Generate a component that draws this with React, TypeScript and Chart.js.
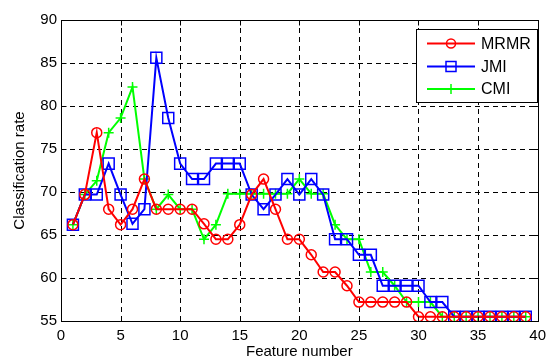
import React, { useEffect, useRef } from 'react';
import { Chart, registerables } from 'chart.js';

Chart.register(...registerables);

const featureNumbers = [
  1, 2, 3, 4, 5, 6, 7, 8, 9, 10, 11, 12, 13, 14, 15, 16, 17, 18, 19, 20,
  21, 22, 23, 24, 25, 26, 27, 28, 29, 30, 31, 32, 33, 34, 35, 36, 37, 38, 39,
];

const mrmr = [
  66.2, 69.7, 76.9, 68.0, 66.2, 68.0, 71.5, 68.0, 68.0, 68.0,
  68.0, 66.3, 64.5, 64.5, 66.2, 69.7, 71.5, 68.0, 64.5, 64.5,
  62.7, 60.7, 60.7, 59.1, 57.2, 57.2, 57.2, 57.2, 57.2, 55.5,
  55.5, 55.5, 55.5, 55.5, 55.5, 55.5, 55.5, 55.5, 55.5,
];

const jmi = [
  66.2, 69.7, 69.7, 73.3, 69.7, 66.3, 68.0, 85.6, 78.6, 73.3,
  71.5, 71.5, 73.3, 73.3, 73.3, 69.7, 68.0, 69.7, 71.5, 69.7,
  71.5, 69.7, 64.5, 64.5, 62.7, 62.7, 59.1, 59.1, 59.1, 59.1,
  57.2, 57.2, 55.5, 55.5, 55.5, 55.5, 55.5, 55.5, 55.5,
];

const cmi = [
  66.2, 69.7, 71.3, 76.9, 78.6, 82.2, 71.5, 68.0, 69.7, 68.0,
  68.0, 64.5, 66.2, 69.8, 69.8, 69.8, 69.8, 69.8, 69.8, 71.5,
  69.8, 69.8, 66.2, 64.5, 64.5, 60.7, 60.7, 59.1, 57.2, 57.2,
  57.2, 55.5, 55.5, 55.5, 55.5, 55.5, 55.5, 55.5, 55.5,
];

const seriesNames = ['MRMR', 'JMI', 'CMI'];
const xTicks = [0, 5, 10, 15, 20, 25, 30, 35, 40];
const yTicks = [55, 60, 65, 70, 75, 80, 85, 90];

const FONT = '"Liberation Sans", Arial, sans-serif';

const gridPlugin = {
  id: 'dashgrid',
  beforeDatasetsDraw(chart: any) {
    const { ctx, chartArea: a, scales } = chart;
    ctx.save();
    ctx.strokeStyle = '#000';
    ctx.lineWidth = 1;
    ctx.setLineDash([5, 4]);
    ctx.beginPath();
    xTicks.forEach((v) => {
      if (v === 0 || v === 40) return;
      const x = Math.round(scales.x.getPixelForValue(v)) + 0.5;
      ctx.moveTo(x, a.bottom);
      ctx.lineTo(x, a.top);
    });
    yTicks.forEach((v) => {
      if (v === 55 || v === 90) return;
      const y = Math.round(scales.y.getPixelForValue(v)) + 0.5;
      ctx.moveTo(a.left, y);
      ctx.lineTo(a.right, y);
    });
    ctx.stroke();
    ctx.restore();
  },
};

const framePlugin = {
  id: 'frame',
  afterDraw(chart: any) {
    const { ctx, chartArea: a, scales } = chart;
    ctx.save();
    ctx.strokeStyle = '#000';
    ctx.lineWidth = 1;
    ctx.setLineDash([]);
    const L = Math.round(a.left) + 0.5;
    const R = Math.round(a.right) + 0.5;
    const T = Math.round(a.top) + 0.5;
    const B = Math.round(a.bottom) + 0.5;
    ctx.strokeRect(L, T, R - L, B - T);
    ctx.beginPath();
    xTicks.forEach((v) => {
      const x = Math.round(scales.x.getPixelForValue(v)) + 0.5;
      ctx.moveTo(x, B);
      ctx.lineTo(x, B - 5);
      ctx.moveTo(x, T);
      ctx.lineTo(x, T + 5);
    });
    yTicks.forEach((v) => {
      const y = Math.round(scales.y.getPixelForValue(v)) + 0.5;
      ctx.moveTo(L, y);
      ctx.lineTo(L + 5, y);
      ctx.moveTo(R, y);
      ctx.lineTo(R - 5, y);
    });
    ctx.stroke();

    // legend
    const bx = 416.5, by = 29.5, bw = 121, bh = 73;
    ctx.fillStyle = '#fff';
    ctx.fillRect(bx, by, bw, bh);
    ctx.strokeRect(bx, by, bw, bh);
    const rows = [43.5, 66.5, 89];
    chart.data.datasets.forEach((ds: any, i: number) => {
      const y = rows[i];
      ctx.strokeStyle = ds.borderColor;
      ctx.lineWidth = 2;
      ctx.beginPath();
      ctx.moveTo(427, y);
      ctx.lineTo(475, y);
      ctx.stroke();
      ctx.lineWidth = 1.5;
      const cx = 451;
      ctx.beginPath();
      if (ds.pointStyle === 'circle') {
        ctx.arc(cx, y, 4.5, 0, Math.PI * 2);
      } else if (ds.pointStyle === 'rect') {
        ctx.rect(cx - 5, y - 5, 10, 10);
      } else {
        ctx.moveTo(cx - 5, y);
        ctx.lineTo(cx + 5, y);
        ctx.moveTo(cx, y - 5);
        ctx.lineTo(cx, y + 5);
      }
      ctx.stroke();
      ctx.fillStyle = '#000';
      ctx.font = `16px ${FONT}`;
      ctx.textBaseline = 'middle';
      ctx.textAlign = 'left';
      ctx.fillText(ds.label, 481, y + 1);
    });
    ctx.restore();
  },
};

export default function App() {
  const ref = useRef<HTMLCanvasElement | null>(null);

  useEffect(() => {
    if (!ref.current) return;
    const mk = (arr: number[]) => featureNumbers.map((x, i) => ({ x, y: arr[i] }));
    const chart = new Chart(ref.current, {
      type: 'line',
      data: {
        datasets: [
          {
            label: seriesNames[0],
            data: mk(mrmr),
            borderColor: '#ff0000',
            backgroundColor: 'rgba(0,0,0,0)',
            borderWidth: 2,
            pointStyle: 'circle',
            pointRadius: 5,
            pointBorderWidth: 1.5,
            pointBorderColor: '#ff0000',
            pointBackgroundColor: 'rgba(0,0,0,0)',
            tension: 0,
          },
          {
            label: seriesNames[1],
            data: mk(jmi),
            borderColor: '#0000ff',
            backgroundColor: 'rgba(0,0,0,0)',
            borderWidth: 2,
            pointStyle: 'rect',
            pointRadius: 7.8,
            pointBorderWidth: 1.5,
            pointBorderColor: '#0000ff',
            pointBackgroundColor: 'rgba(0,0,0,0)',
            tension: 0,
          },
          {
            label: seriesNames[2],
            data: mk(cmi),
            borderColor: '#00ff00',
            backgroundColor: 'rgba(0,0,0,0)',
            borderWidth: 2,
            pointStyle: 'cross',
            pointRadius: 5,
            pointBorderWidth: 1.5,
            pointBorderColor: '#00ff00',
            tension: 0,
          },
        ],
      },
      options: {
        animation: false,
        responsive: false,
        maintainAspectRatio: false,
        layout: { padding: { left: 0, right: 8, top: 20, bottom: 0 } },
        plugins: {
          legend: { display: false },
          tooltip: { enabled: false },
        },
        scales: {
          x: {
            type: 'linear',
            min: 0,
            max: 40,
            afterBuildTicks: (s: any) => {
              s.ticks = xTicks.map((v) => ({ value: v }));
            },
            grid: { display: false, drawTicks: false },
            border: { display: false },
            ticks: {
              color: '#000',
              font: { family: FONT, size: 15 },
              padding: 6,
              maxRotation: 0,
            },
            title: {
              display: true,
              text: 'Feature number',
              color: '#000',
              font: { family: FONT, size: 15 },
              padding: { top: 0, bottom: 0 },
            },
            afterFit: (s: any) => {
              s.height = 40;
            },
          },
          y: {
            type: 'linear',
            min: 55,
            max: 90,
            afterBuildTicks: (s: any) => {
              s.ticks = yTicks.map((v) => ({ value: v }));
            },
            grid: { display: false, drawTicks: false },
            border: { display: false },
            ticks: {
              color: '#000',
              font: { family: FONT, size: 15 },
              padding: 4,
            },
            title: {
              display: true,
              text: 'Classification rate',
              color: '#000',
              font: { family: FONT, size: 15 },
              padding: { top: 11, bottom: 0 },
            },
            afterFit: (s: any) => {
              s.width = 61;
            },
          },
        },
      },
      plugins: [gridPlugin, framePlugin],
    });
    return () => chart.destroy();
  }, []);

  return (
    <div style={{ position: 'fixed', left: 0, top: 0, width: 552, height: 361, background: '#fff' }}>
      <canvas ref={ref} width={552} height={361} style={{ width: 552, height: 361 }} />
    </div>
  );
}
